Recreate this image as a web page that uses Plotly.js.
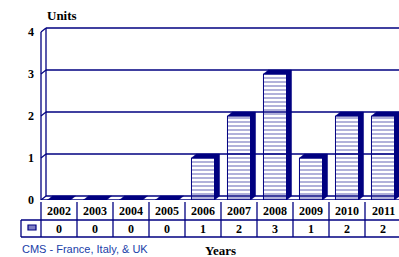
<!DOCTYPE html>
<html><head><meta charset="utf-8">
<script src="https://cdn.plot.ly/plotly-3.0.1.min.js"></script>
<style>html,body{margin:0;padding:0;background:#fff}</style>
</head><body><div id="chart" style="width:399px;height:257px"></div>
<script>
// ---- data ----
const years = [2002, 2003, 2004, 2005, 2006, 2007, 2008, 2009, 2010, 2011];
const units = [0, 0, 0, 0, 1, 2, 3, 1, 2, 2];
const yTicks = [0, 1, 2, 3, 4];
const yTitle = 'Units';
const xTitle = 'Years';
const sourceNote = 'CMS - France, Italy, & UK';

// ---- layout geometry (styles) ----
const W = 399, H = 257;
const M = {l: 38, r: 0, t: 24, b: 57};
const plotW = W - M.l - M.r, plotH = H - M.t - M.b;
const COL = 36, UNIT = 42, FIRST_OFF = 21;      // px per year, px per unit, first centre offset
const xr0 = years[0] - FIRST_OFF / COL;
const xRange = [xr0, xr0 + plotW / COL];
const yRange = [0, plotH / UNIT];
const DX = 5, DY = 4;                            // depth in px
const dxu = DX / COL, dyu = DY / UNIT;
const BW = 0.64;
const NAVY = '#000080', LAV = '#6464b6', SERIF = 'Liberation Serif, Times New Roman, serif';

const pxX = px => (px - M.l) / plotW;
const pxY = py => (H - M.b - py) / plotH;

// wall + back gridlines
const wallX = years[0] - 0.5;
const xEnd = xRange[1] + 1;
const gx = [], gy = [];
gx.push(wallX, wallX, null); gy.push(yTicks[0], yTicks[yTicks.length - 1], null);
gx.push(wallX + dxu, wallX + dxu, null); gy.push(yTicks[0] + dyu, yTicks[yTicks.length - 1] + dyu, null);
yTicks.forEach(v => {
  gx.push(wallX, wallX + dxu, null); gy.push(v, v + dyu, null);
  gx.push(wallX + dxu, xEnd, null); gy.push(v + dyu, v + dyu, null);
});
gx.push(wallX, xEnd, null); gy.push(0, 0, null);

const traces = [];
traces.push({type: 'scatter', mode: 'lines', x: gx, y: gy, line: {color: NAVY, width: 1.3},
  hoverinfo: 'skip', showlegend: false});

traces.push({type: 'bar', x: years, y: units, width: BW,
  marker: {color: '#ffffff', line: {color: NAVY, width: 1},
    pattern: {shape: '-', fgcolor: LAV, bgcolor: '#ffffff', size: 4, solidity: 0.5, fillmode: 'overlay'}},
  showlegend: false, hoverinfo: 'skip'});

years.forEach((yr, i) => {
  const v = units[i], x0 = yr - BW / 2, x1 = yr + BW / 2;
  traces.push({type: 'scatter', mode: 'lines', fill: 'toself', fillcolor: NAVY,
    x: [x0, x1, x1, x1 + dxu, x1 + dxu, x0 + dxu, x0],
    y: [v, v, 0, dyu, v + dyu, v + dyu, v],
    line: {color: NAVY, width: 0.5}, hoverinfo: 'skip', showlegend: false});
});

// ---- table ----
const shapes = [];
const annotations = [];
const rowTop = 202, rowMid = 220, rowBot = 237, legL = 21;
[rowMid, rowBot].forEach(py => shapes.push({type: 'line', xref: 'paper', yref: 'paper',
  x0: pxX(legL), x1: 1.02, y0: pxY(py), y1: pxY(py), line: {color: NAVY, width: 1.3}}));
shapes.push({type: 'line', xref: 'paper', yref: 'paper', x0: pxX(legL), x1: pxX(legL),
  y0: pxY(rowMid), y1: pxY(rowBot), line: {color: NAVY, width: 1.3}});
years.forEach(yr => shapes.push({type: 'line', xref: 'x', yref: 'paper', x0: yr - 0.5, x1: yr - 0.5,
  y0: pxY(rowTop), y1: pxY(rowBot), line: {color: NAVY, width: 1.3}}));
shapes.push({type: 'rect', xref: 'paper', yref: 'paper', x0: pxX(28), x1: pxX(36),
  y0: pxY(225), y1: pxY(230), fillcolor: '#8080c4', line: {color: NAVY, width: 1.2}});

const bold = (sz, col) => ({family: SERIF, size: sz, color: col || '#000', weight: 700});
years.forEach((yr, i) => {
  annotations.push({xref: 'x', yref: 'paper', x: yr, y: pxY((rowTop + rowMid) / 2), text: String(yr),
    showarrow: false, font: bold(12), xanchor: 'center', yanchor: 'middle'});
  annotations.push({xref: 'x', yref: 'paper', x: yr, y: pxY((rowMid + rowBot) / 2), text: String(units[i]),
    showarrow: false, font: bold(12), xanchor: 'center', yanchor: 'middle'});
});
annotations.push({xref: 'paper', yref: 'paper', x: pxX(45), y: pxY(15), text: yTitle, showarrow: false,
  font: bold(13), xanchor: 'left', yanchor: 'middle'});
annotations.push({xref: 'paper', yref: 'paper', x: pxX(203), y: pxY(250), text: xTitle, showarrow: false,
  font: bold(13), xanchor: 'left', yanchor: 'middle'});
annotations.push({xref: 'paper', yref: 'paper', x: pxX(20), y: pxY(249), text: sourceNote, showarrow: false,
  font: {family: 'Liberation Sans, Arial, sans-serif', size: 11, color: '#2040a8'}, xanchor: 'left', yanchor: 'middle'});

const layout = {
  width: W, height: H, margin: M, paper_bgcolor: '#fff', plot_bgcolor: '#fff',
  showlegend: false, bargap: 0,
  xaxis: {range: xRange, showgrid: false, zeroline: false, showticklabels: false, showline: false, ticks: ''},
  yaxis: {range: yRange, tickvals: yTicks, ticktext: yTicks.map(String), showgrid: false, zeroline: false,
    showline: false, ticks: '', tickfont: bold(12), ticklabelstandoff: 3},
  shapes, annotations
};
Plotly.newPlot('chart', traces, layout, {staticPlot: true, displayModeBar: false});
</script></body></html>
